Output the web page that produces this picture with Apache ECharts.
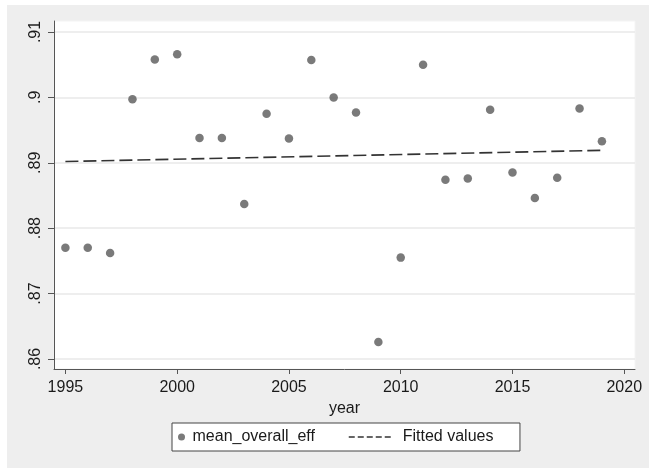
<!DOCTYPE html>
<html>
<head>
<meta charset="utf-8">
<script src="https://cdn.jsdelivr.net/npm/echarts@6/dist/echarts.min.js"></script>
<style>
  html, body { margin: 0; padding: 0; background: #ffffff; }
  #chart { position: absolute; left: 7px; top: 5px; width: 642px; height: 463px; }
</style>
</head>
<body>
<div id="chart"></div>
<script>
// ---- data ----
const years = [1995, 1996, 1997, 1998, 1999, 2000, 2001, 2002, 2003, 2004, 2005, 2006, 2007,
               2008, 2009, 2010, 2011, 2012, 2013, 2014, 2015, 2016, 2017, 2018, 2019];
const meanOverallEff = [0.8770, 0.8770, 0.8762, 0.8997, 0.9058, 0.9066, 0.8938, 0.8938, 0.8837,
                        0.8975, 0.8937, 0.9057, 0.9000, 0.8977, 0.8626, 0.8755, 0.9050, 0.8874,
                        0.8876, 0.8981, 0.8885, 0.8846, 0.8877, 0.8983, 0.8933];
const fitYears = [1995, 2019];
const fitValues = [0.8902, 0.8919];
const xTicks = [1995, 2000, 2005, 2010, 2015, 2020];
const yTicks = [0.86, 0.87, 0.88, 0.89, 0.90, 0.91];
const yTickLabels = ['.86', '.87', '.88', '.89', '.9', '.91'];
const seriesNames = ['mean_overall_eff', 'Fitted values'];

const FONT = "'Liberation Sans', Arial, sans-serif";
const chart = echarts.init(document.getElementById('chart'), null, { renderer: 'canvas' });

const scatterData = years.map((y, i) => [y, meanOverallEff[i]]);
const fitData = fitYears.map((y, i) => [y, fitValues[i]]);

chart.setOption({
  backgroundColor: '#eeeeee',
  animation: false,
  textStyle: { fontFamily: FONT },
  grid: {
    left: 47, right: 14, top: 16, bottom: 99,
    show: true, backgroundColor: '#ffffff', borderColor: '#f4f4f4', borderWidth: 1
  },
  xAxis: {
    type: 'value',
    min: 1994.49, max: 2020.48,
    name: 'year',
    nameLocation: 'middle',
    nameGap: 25,
    nameTextStyle: { fontSize: 16, color: '#1a1a1a', fontFamily: FONT },
    axisLine: { show: true, onZero: false, lineStyle: { color: '#555555', width: 1 } },
    axisTick: { show: true, length: 5, customValues: xTicks, lineStyle: { color: '#555555' } },
    axisLabel: {
      customValues: xTicks, margin: 11, fontSize: 16, color: '#1a1a1a', fontFamily: FONT,
      formatter: function (v) { return String(Math.round(v)); }
    },
    splitLine: { show: false }
  },
  yAxis: {
    type: 'value',
    min: 0.85847, max: 0.91168,
    axisLine: { show: true, onZero: false, lineStyle: { color: '#555555', width: 1 } },
    axisTick: { show: true, length: 6, customValues: yTicks, lineStyle: { color: '#555555' } },
    axisLabel: {
      customValues: yTicks, rotate: 90, margin: 10, fontSize: 16, color: '#1a1a1a', fontFamily: FONT,
      formatter: function (v) {
        const i = yTicks.findIndex(t => Math.abs(t - v) < 1e-9);
        return i >= 0 ? yTickLabels[i] : '';
      }
    },
    splitLine: { show: true, lineStyle: { color: '#e8e8e8', width: 1.5 } }
  },
  legend: [
    {
      data: [seriesNames[0]],
      left: 165, top: 418,
      padding: [6, 205, 6, 6],
      backgroundColor: '#ffffff',
      borderColor: '#444444', borderWidth: 1,
      itemWidth: 12, itemHeight: 7,
      textStyle: { fontSize: 16, color: '#1a1a1a', fontFamily: FONT }
    },
    {
      data: [{ name: seriesNames[1], itemStyle: { color: 'rgba(0,0,0,0)', borderWidth: 0, opacity: 0 } }],
      left: 341, top: 424,
      padding: 0,
      itemWidth: 43, itemHeight: 14,
      lineStyle: { type: [6, 3], width: 1.5, color: '#333333' },
      textStyle: { fontSize: 16, color: '#1a1a1a', fontFamily: FONT, padding: [0, 0, 0, 6] }
    }
  ],
  series: [
    {
      name: seriesNames[0],
      type: 'scatter',
      data: scatterData,
      symbol: 'circle',
      symbolSize: 8.5,
      itemStyle: { color: '#595959' },
      z: 3
    },
    {
      name: seriesNames[1],
      type: 'line',
      data: fitData,
      showSymbol: false,
      symbol: 'none',
      lineStyle: { type: [13, 5], width: 1.6, color: '#333333' },
      itemStyle: { color: '#333333' },
      z: 2
    }
  ]
});
</script>
</body>
</html>
